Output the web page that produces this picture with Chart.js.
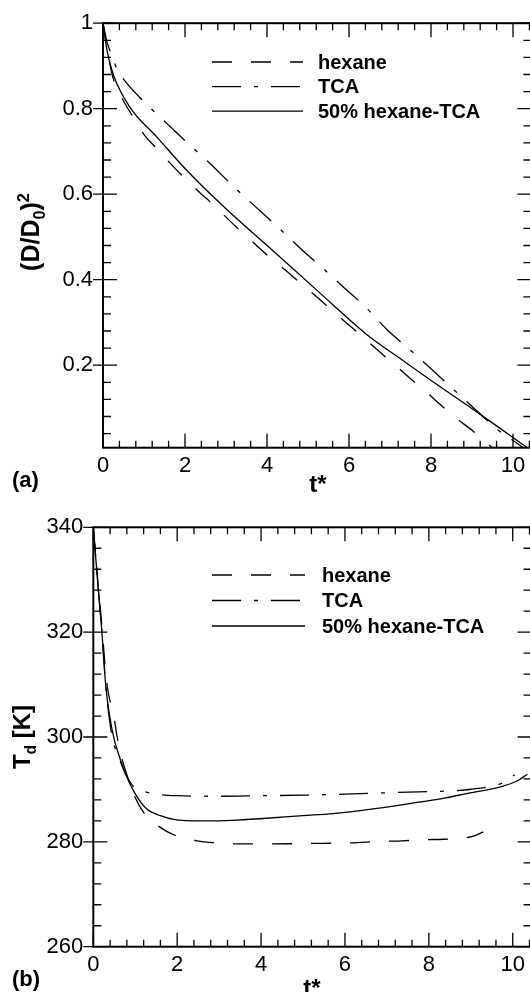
<!DOCTYPE html>
<html>
<head>
<meta charset="utf-8">
<script src="https://cdn.jsdelivr.net/npm/chart.js@4.4.0/dist/chart.umd.min.js"></script>
<style>
  html, body { margin: 0; padding: 0; background: #fff; overflow: hidden; width: 530px; height: 992px; }
  .box { position: absolute; left: 0; width: 545px; }
</style>
</head>
<body>
<div class="box" style="top:0;height:497px"><canvas id="chartA" width="545" height="497"></canvas></div>
<div class="box" style="top:497px;height:495px"><canvas id="chartB" width="545" height="495"></canvas></div>
<script>
// ---- data ----
const xTicks = [0, 2, 4, 6, 8, 10];
const yTicksA = [0.2, 0.4, 0.6, 0.8, 1];
const yTicksB = [260, 280, 300, 320, 340];
const seriesNames = ["hexane", "TCA", "50% hexane-TCA"];

// (a) (D/D0)^2 against t*
const hexaneTimeA = [0, 0.1, 0.25, 0.5, 0.74, 1.02, 1.31, 1.68, 2.0, 2.37, 2.73, 3.1, 3.46, 4.0, 4.6, 4.93, 5.33, 5.66, 6.07, 6.43, 6.8, 7.16, 7.53, 7.9, 8.26, 8.63, 9.05, 9.42, 9.5];
const hexaneDiamA = [1, 0.94, 0.87, 0.818, 0.78, 0.737, 0.707, 0.668, 0.637, 0.603, 0.572, 0.537, 0.505, 0.458, 0.41, 0.383, 0.35, 0.322, 0.288, 0.258, 0.227, 0.197, 0.166, 0.136, 0.105, 0.075, 0.044, 0.013, 0.007];
const tcaTimeA = [0, 0.1, 0.21, 0.33, 0.51, 0.98, 1.53, 2.08, 2.61, 3.14, 3.67, 4.22, 4.85, 5.29, 5.86, 6.39, 6.93, 7.44, 8.02, 8.54, 9.11, 9.64, 10.0, 10.25];
const tcaDiamA = [1, 0.955, 0.926, 0.895, 0.868, 0.818, 0.768, 0.718, 0.672, 0.622, 0.575, 0.527, 0.47, 0.433, 0.383, 0.337, 0.283, 0.24, 0.19, 0.144, 0.094, 0.048, 0.024, 0.007];
const mixTimeA = [0, 0.1, 0.25, 0.66, 1.31, 2.04, 3.02, 4.2, 5.3, 6.43, 7.3, 8.02, 8.9, 9.6, 10.35];
const mixDiamA = [1, 0.935, 0.88, 0.803, 0.734, 0.656, 0.564, 0.463, 0.368, 0.272, 0.212, 0.163, 0.105, 0.058, 0.007];

// (b) Td [K] against t*
const hexaneTimeB = [0, 0.1, 0.2, 0.3, 0.36, 0.48, 0.56, 0.65, 0.8, 0.95, 1.19, 1.55, 1.99, 2.47, 2.94, 3.46, 4.2, 5.2, 6.1, 6.88, 7.36, 7.87, 8.35, 8.82, 9.1, 9.3];
const hexaneTempB = [340, 330.5, 321.5, 312, 308.3, 304.5, 300.4, 296.9, 292.8, 289.3, 285.7, 283, 281.1, 280.2, 279.8, 279.6, 279.6, 279.7, 279.8, 280.1, 280.2, 280.4, 280.5, 280.7, 281.2, 281.9];
const tcaTimeB = [0, 0.1, 0.2, 0.3, 0.4, 0.48, 0.56, 0.65, 0.8, 0.95, 1.1, 1.31, 1.6, 2.0, 3.0, 4.0, 5.0, 6.0, 6.76, 7.5, 8.03, 8.74, 9.06, 9.5, 9.8, 10.05];
const tcaTempB = [340, 330, 320.5, 309.5, 302.5, 299, 297, 295.2, 292.5, 290.6, 289.9, 289.4, 289, 288.8, 288.7, 288.8, 288.9, 289.1, 289.3, 289.5, 289.6, 289.8, 290.1, 290.6, 291.4, 292.8];
const mixTimeB = [0, 0.1, 0.2, 0.3, 0.4, 0.5, 0.6, 0.76, 0.99, 1.27, 1.6, 1.91, 2.6, 3.3, 4.13, 5.0, 5.72, 6.5, 7.31, 7.79, 8.4, 8.9, 9.38, 9.8, 10.1, 10.35];
const mixTempB = [340, 330, 320.5, 309.5, 303.5, 299.5, 296.8, 293.1, 289.3, 286.3, 285, 284.3, 284, 284.1, 284.5, 285, 285.4, 286.1, 287.0, 287.6, 288.4, 289.2, 289.9, 290.7, 291.6, 292.9];

const FONT = '"Liberation Sans", Arial, Helvetica, sans-serif';
const dashes = [[20, 19], [29, 13, 4, 13], []];

function pts(xs, ys) {
  return xs.map((x, i) => ({ x: x, y: ys[i] }));
}

function lineSet(name, data, dash) {
  return {
    label: name, data: data,
    borderColor: '#000', borderWidth: 1.3, borderDash: dash,
    pointRadius: 0, fill: false, cubicInterpolationMode: 'monotone'
  };
}

// inward ticks on all four sides, plus the frame
const framePlugin = {
  id: 'frame',
  afterDatasetsDraw(chart, args, o) {
    const ctx = chart.ctx, a = chart.chartArea;
    const sx = chart.scales.x, sy = chart.scales.y;
    ctx.save();
    ctx.strokeStyle = '#000';
    ctx.lineWidth = 1.3;
    ctx.beginPath();
    for (let i = 0; i * o.xMinor <= sx.max + 1e-9; i++) {
      const v = i * o.xMinor;
      const px = sx.getPixelForValue(v);
      const len = xTicks.some(m => Math.abs(m - v) < 1e-6) ? 14 : 7;
      ctx.moveTo(px, a.bottom); ctx.lineTo(px, a.bottom - len);
      ctx.moveTo(px, a.top); ctx.lineTo(px, a.top + len);
    }
    for (let i = Math.ceil(sy.min / o.yMinor - 1e-9); i * o.yMinor <= sy.max + 1e-9; i++) {
      const v = i * o.yMinor;
      const py = sy.getPixelForValue(v);
      const major = o.yMajor.some(m => Math.abs(m - v) < 1e-6);
      const len = major ? 14 : 8;
      ctx.moveTo(a.left - (major ? 10 : 0), py); ctx.lineTo(a.left + len, py);
      ctx.moveTo(a.right, py); ctx.lineTo(a.right - len, py);
    }
    ctx.stroke();
    ctx.lineWidth = 2;
    ctx.strokeRect(a.left, a.top, a.right - a.left, a.bottom - a.top);

    // legend
    ctx.lineWidth = 1.3;
    ctx.font = 'bold 20px ' + FONT;
    ctx.fillStyle = '#000';
    ctx.textBaseline = 'middle';
    chart.data.datasets.forEach((ds, i) => {
      const y = o.legendY + i * o.legendStep;
      ctx.setLineDash(ds.borderDash);
      ctx.beginPath();
      ctx.moveTo(o.legendX0, y); ctx.lineTo(o.legendX1, y);
      ctx.stroke();
      ctx.setLineDash([]);
      ctx.fillText(ds.label, o.legendText, y + 1);
    });

    // panel letter and x title
    ctx.textBaseline = 'alphabetic';
    ctx.font = 'bold 22px ' + FONT;
    ctx.textAlign = 'left';
    ctx.fillText(o.panel, 12, o.panelY);
    ctx.font = 'bold 24px ' + FONT;
    ctx.textAlign = 'center';
    ctx.fillText('t*', o.xTitleX, o.xTitleY);

    // rotated y title with sub/superscripts
    const size = o.yTitleSize;
    const parts = o.yTitle.map(p => ({ t: p[0], s: p[1] ? size * 0.65 : size, dy: p[1] === 'sub' ? size * 0.25 : p[1] === 'sup' ? -size * 0.42 : 0 }));
    let total = 0;
    parts.forEach(p => { ctx.font = 'bold ' + p.s + 'px ' + FONT; p.w = ctx.measureText(p.t).width; total += p.w; });
    ctx.translate(o.yTitleX, o.yTitleY);
    ctx.rotate(-Math.PI / 2);
    ctx.textAlign = 'left';
    let cx = -total / 2;
    parts.forEach(p => {
      ctx.font = 'bold ' + p.s + 'px ' + FONT;
      ctx.fillText(p.t, cx, p.dy);
      cx += p.w;
    });
    ctx.restore();
  }
};

function makeChart(id, sets, cfg) {
  return new Chart(document.getElementById(id), {
    type: 'line',
    data: { datasets: sets.map((s, i) => lineSet(seriesNames[i], s, dashes[i])) },
    plugins: [framePlugin],
    options: {
      responsive: false,
      animation: false,
      events: [],
      layout: { padding: { left: 0, top: cfg.top, right: cfg.right, bottom: 0 } },
      plugins: {
        legend: { display: false },
        tooltip: { enabled: false },
        frame: cfg.frame
      },
      scales: {
        x: {
          type: 'linear', min: 0, max: 10.45,
          grid: { display: false, drawTicks: false },
          border: { display: false },
          afterFit: s => { s.height = cfg.xHeight; },
          afterBuildTicks: s => { s.ticks = xTicks.map(v => ({ value: v })); },
          ticks: { color: '#000', padding: 5, maxRotation: 0, font: { family: FONT, size: 22 }, callback: v => String(v) }
        },
        y: {
          type: 'linear', min: cfg.yMin, max: cfg.yMax,
          grid: { display: false, drawTicks: false },
          border: { display: false },
          afterFit: s => { s.width = cfg.yWidth; },
          afterBuildTicks: s => { s.ticks = cfg.yTicks.map(v => ({ value: v })); },
          ticks: { color: '#000', padding: 10, font: { family: FONT, size: 22 }, callback: v => String(v) }
        }
      }
    }
  });
}

makeChart('chartA', [pts(hexaneTimeA, hexaneDiamA), pts(tcaTimeA, tcaDiamA), pts(mixTimeA, mixDiamA)], {
  top: 18, right: 13.55, xHeight: 49.3, yWidth: 103,
  yMin: 0.007, yMax: 1, yTicks: yTicksA,
  frame: {
    xMinor: 0.4, yMinor: 0.04, yMajor: yTicksA,
    legendX0: 212, legendX1: 303, legendText: 318, legendY: 62, legendStep: 24.6,
    panel: '(a)', panelY: 487, xTitleX: 318, xTitleY: 492,
    yTitle: [['(D/D'], ['0', 'sub'], [')'], ['2', 'sup']], yTitleSize: 25, yTitleX: 39, yTitleY: 232
  }
});

makeChart('chartB', [pts(hexaneTimeB, hexaneTempB), pts(tcaTimeB, tcaTempB), pts(mixTimeB, mixTempB)], {
  top: 30.3, right: 13.4, xHeight: 45.3, yWidth: 93.3,
  yMin: 260, yMax: 340, yTicks: yTicksB,
  frame: {
    xMinor: 0.4, yMinor: 4, yMajor: yTicksB,
    legendX0: 212, legendX1: 305, legendText: 322, legendY: 78, legendStep: 25.5,
    panel: '(b)', panelY: 489, xTitleX: 312, xTitleY: 499,
    yTitle: [['T'], ['d', 'sub'], [' [K]']], yTitleSize: 24, yTitleX: 30, yTitleY: 240
  }
});
</script>
</body>
</html>
